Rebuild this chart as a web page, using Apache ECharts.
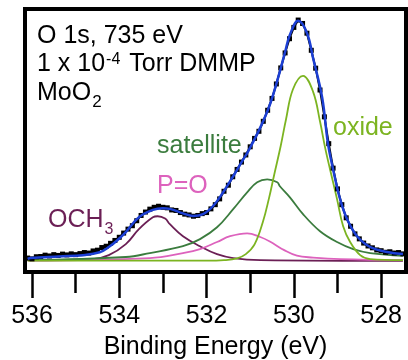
<!DOCTYPE html>
<html>
<head>
<meta charset="utf-8">
<script src="https://cdn.jsdelivr.net/npm/echarts@6/dist/echarts.min.js"></script>
<style>
  html, body { margin: 0; padding: 0; background: #fff; }
  #chart { width: 408px; height: 360px; }
</style>
</head>
<body>
<div id="chart"></div>
<script>
// binding energy (eV) vs intensity (arb.)
var measured = [
  [536.1, 5.3], [536.0, 5.0], [535.9, 5.8], [535.8, 5.9], [535.7, 6.4], [535.6, 6.1],
  [535.5, 6.6], [535.4, 6.3], [535.3, 6.8], [535.2, 6.5], [535.1, 6.9], [535.0, 6.6],
  [534.9, 7.0], [534.8, 7.4], [534.7, 7.2], [534.6, 8.0], [534.5, 8.3], [534.4, 9.3],
  [534.3, 9.8], [534.2, 10.9], [534.1, 12.0], [534.0, 13.2], [533.9, 14.8], [533.8, 16.3],
  [533.7, 17.6], [533.6, 19.5], [533.5, 21.5], [533.4, 22.8], [533.3, 23.9], [533.2, 24.6],
  [533.1, 25.0], [533.0, 24.6], [532.9, 24.4], [532.8, 23.6], [532.7, 23.4], [532.6, 22.6],
  [532.5, 22.0], [532.4, 21.7], [532.3, 21.2], [532.2, 21.5], [532.1, 22.2], [532.0, 22.6],
  [531.9, 24.0], [531.8, 25.6], [531.7, 27.8], [531.6, 30.7], [531.5, 33.0], [531.4, 36.2],
  [531.3, 39.0], [531.2, 41.8], [531.1, 44.5], [531.0, 47.6], [530.9, 50.8], [530.8, 53.5],
  [530.7, 57.3], [530.6, 61.5], [530.5, 66.0], [530.4, 71.5], [530.3, 77.6], [530.2, 83.3],
  [530.1, 88.7], [530.0, 93.0], [529.9, 95.8], [529.8, 94.5], [529.7, 90.8], [529.6, 84.3],
  [529.5, 77.5], [529.4, 69.2], [529.3, 59.0], [529.2, 48.8], [529.1, 39.5], [529.0, 31.6],
  [528.9, 25.6], [528.8, 20.6], [528.7, 17.4], [528.6, 14.5], [528.5, 12.6], [528.4, 11.0],
  [528.3, 9.9], [528.2, 9.2], [528.1, 8.4], [528.0, 8.1], [527.9, 7.5], [527.8, 7.7],
  [527.7, 7.2], [527.6, 7.4], [527.5, 6.9]
];

var fit = [
  [536.1, 5.0], [536.03, 5.3], [535.38, 5.9], [534.83, 6.4], [534.45, 7.5], [534.24, 9.5],
  [534.05, 12.0], [533.85, 15.2], [533.55, 20.8], [533.23, 23.6], [533.0, 24.2], [532.84, 24.0],
  [532.54, 22.3], [532.31, 21.3], [532.08, 22.0], [531.85, 25.1], [531.62, 30.3], [531.39, 36.4],
  [531.16, 42.8], [531.05, 45.8], [530.77, 54.9], [530.55, 63.6], [530.36, 73.9], [530.2, 83.7],
  [530.09, 90.2], [529.9, 95.5], [529.7, 90.9], [529.56, 81.4], [529.35, 66.3], [529.22, 49.0],
  [529.1, 39.0], [528.94, 27.7], [528.78, 20.1], [528.55, 13.6], [528.25, 9.5], [527.86, 7.6],
  [527.5, 6.8]
];

var oxide = [
  [536.1, 4.3], [532.0, 4.3], [531.6, 4.5], [531.3, 5.2], [531.1, 6.8], [530.9, 10.5],
  [530.71, 19.0], [530.57, 28.0], [530.45, 37.0], [530.3, 48.0], [530.18, 58.0], [530.02, 69.5],
  [529.79, 74.6], [529.56, 68.6], [529.4, 57.2], [529.28, 47.0], [529.17, 39.0], [529.01, 27.7],
  [528.87, 17.4], [528.71, 11.4], [528.48, 6.4], [528.25, 4.9], [527.5, 4.5]
];

var satellite = [
  [536.1, 4.5], [533.85, 5.7], [533.3, 7.2], [532.54, 9.8], [532.15, 12.5], [531.76, 17.0],
  [531.39, 23.9], [531.07, 30.3], [530.84, 34.1], [530.61, 35.2], [530.38, 34.1], [530.32, 32.6],
  [530.09, 28.4], [529.79, 22.0], [529.4, 15.5], [529.01, 11.4], [528.64, 8.7], [528.25, 7.2],
  [527.5, 6.1]
];

var pO = [
  [536.1, 4.4], [533.3, 5.3], [532.54, 7.2], [532.15, 8.7], [531.76, 11.4], [531.46, 13.6],
  [531.07, 14.7], [530.77, 13.3], [530.55, 11.6], [530.22, 8.3], [529.93, 6.2], [529.56, 5.5],
  [528.94, 4.9], [527.5, 4.5]
];

var och3 = [
  [536.1, 4.4], [534.6, 4.9], [534.24, 6.4], [533.85, 10.6], [533.55, 16.3], [533.23, 20.8],
  [533.12, 21.2], [532.95, 20.3], [532.84, 18.2], [532.54, 13.6], [532.15, 9.8], [531.76, 6.8],
  [531.39, 5.3], [530.77, 4.5], [527.5, 4.2]
];

var majorTicks = [528, 530, 532, 534, 536];
var minorTicks = [529, 531, 533, 535];

var font = '"Liberation Sans", Arial, sans-serif';
var oxideColor = '#7cb421';
var satColor = '#3b7c3e';
var pOColor = '#dd62bd';
var och3Color = '#6b1f55';

var myChart = echarts.init(document.getElementById('chart'));

function component(name, data, color) {
  return {
    name: name,
    type: 'line',
    data: data,
    smooth: 0.4,
    showSymbol: false,
    lineStyle: { color: color, width: 1.8 },
    z: 2
  };
}

var option = {
  animation: false,
  backgroundColor: '#fff',
  grid: {
    left: 25, top: 9, width: 381, height: 263,
    outerBoundsMode: 'none',
    show: true, borderColor: '#000', borderWidth: 4
  },
  xAxis: [
    {
      type: 'value', min: 527.43, max: 536.16, inverse: true, position: 'bottom',
      axisLine: { show: false },
      splitLine: { show: false },
      axisTick: { show: true, inside: false, length: 26, customValues: majorTicks,
        lineStyle: { color: '#000', width: 2.5 } },
      axisLabel: { show: true, customValues: majorTicks, margin: 32, color: '#000',
        fontSize: 25, fontFamily: font },
      name: 'Binding Energy (eV)', nameLocation: 'middle', nameGap: 63,
      nameTextStyle: { color: '#000', fontSize: 25, fontFamily: font }
    },
    {
      type: 'value', min: 527.43, max: 536.16, inverse: true, position: 'bottom',
      axisLine: { show: false },
      splitLine: { show: false },
      axisTick: { show: true, inside: false, length: 21, customValues: minorTicks,
        lineStyle: { color: '#000', width: 2.5 } },
      axisLabel: { show: false }
    }
  ],
  yAxis: {
    type: 'value', min: 0, max: 100,
    axisLine: { show: false }, axisTick: { show: false },
    axisLabel: { show: false }, splitLine: { show: false }
  },
  series: [
    component('OCH3', och3, och3Color),
    component('P=O', pO, pOColor),
    component('satellite', satellite, satColor),
    component('oxide', oxide, oxideColor),
    {
      name: 'data',
      type: 'line',
      data: measured,
      showAllSymbol: true,
      symbol: 'rect',
      symbolSize: 5,
      itemStyle: { color: '#000' },
      lineStyle: { color: '#000', width: 2 },
      z: 3
    },
    {
      name: 'fit',
      type: 'line',
      data: fit,
      smooth: 0.4,
      showSymbol: false,
      lineStyle: { color: '#1c3fd4', width: 2.5 },
      z: 4
    }
  ],
  graphic: [
    { type: 'text', left: 37, top: 24, style: { text: 'O 1s, 735 eV', font: '25px ' + font, fill: '#000' } },
    { type: 'text', left: 37, top: 52, style: {
      text: '1 x 10{sup|-4} Torr DMMP', font: '25px ' + font, fill: '#000',
      rich: { sup: { fontSize: 16, fontFamily: font, verticalAlign: 'top', padding: [0, 2, 0, 1] } } } },
    { type: 'text', left: 37, top: 75, style: {
      text: 'MoO{sub|2}', font: '25px ' + font, fill: '#000', lineHeight: 36,
      rich: { sub: { fontSize: 17, lineHeight: 17, fontFamily: font, verticalAlign: 'bottom', padding: [0, 0, 0, 1] } } } },
    { type: 'text', left: 157, top: 134, style: { text: 'satellite', font: '25px ' + font, fill: satColor } },
    { type: 'text', left: 333, top: 116, style: { text: 'oxide', font: '25px ' + font, fill: oxideColor } },
    { type: 'text', left: 157, top: 174, style: { text: 'P=O', font: '25px ' + font, fill: pOColor } },
    { type: 'text', left: 48, top: 202, style: {
      text: 'OCH{sub|3}', font: '25px ' + font, fill: och3Color, lineHeight: 36,
      rich: { sub: { fontSize: 16, lineHeight: 16, fontFamily: font, verticalAlign: 'bottom', padding: [0, 0, 0, 1] } } } }
  ]
};

myChart.setOption(option);
window.onresize = function () {
  myChart.resize();
};
</script>
</body>
</html>
